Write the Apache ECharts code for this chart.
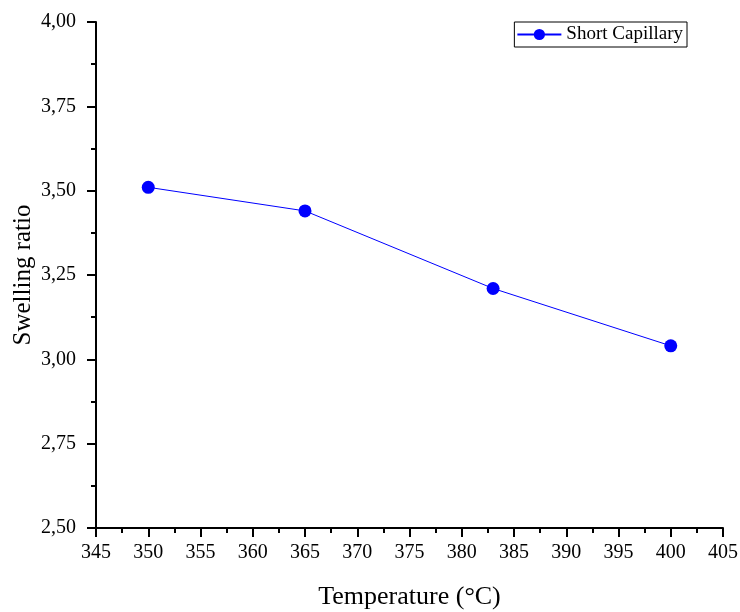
<!DOCTYPE html>
<html><head><meta charset="utf-8">
<script src="https://cdn.jsdelivr.net/npm/echarts@6/dist/echarts.min.js"></script>
<style>html,body{margin:0;padding:0;background:#fff}#c{width:740px;height:612px}</style>
</head><body><div id="c"></div>
<script>
const temperatures = [350, 365, 383, 400];
const swellingRatio = [3.51, 3.44, 3.21, 3.04];
const seriesName = 'Short Capillary';
const xTitle = 'Temperature (°C)';
const yTitle = 'Swelling ratio';

const font = 'Liberation Serif, Times New Roman, serif';
const chart = echarts.init(document.getElementById('c'));
chart.setOption({
  animation: false,
  backgroundColor: '#fff',
  grid: {left: 96, right: 17, top: 22, bottom: 84, containLabel: false, outerBoundsMode: 'none'},
  legend: {
    right: 53, top: 22,
    padding: [3, 4, 3, 2],
    borderColor: '#000', borderWidth: 1,
    itemWidth: 44, itemHeight: 14, itemGap: 4,
    textStyle: {fontFamily: font, fontSize: 19, color: '#000'},
    data: [seriesName]
  },
  xAxis: {
    type: 'value', min: 345, max: 405, interval: 5,
    name: xTitle, nameLocation: 'middle', nameGap: 56, nameMoveOverlap: false,
    nameTextStyle: {fontFamily: font, fontSize: 26, color: '#000'},
    axisLine: {show: true, onZero: false, lineStyle: {color: '#000', width: 2}},
    axisTick: {show: true, inside: false, length: 9, lineStyle: {color: '#000', width: 2}},
    minorTick: {show: true, splitNumber: 2, length: 5, lineStyle: {color: '#000', width: 2}},
    splitLine: {show: false},
    axisLabel: {fontFamily: font, fontSize: 20, color: '#000', margin: 15}
  },
  yAxis: {
    type: 'value', min: 2.5, max: 4.0, interval: 0.25,
    name: yTitle, nameLocation: 'middle', nameGap: 60, nameMoveOverlap: false,
    nameTextStyle: {fontFamily: font, fontSize: 25, color: '#000'},
    axisLine: {show: true, onZero: false, lineStyle: {color: '#000', width: 2}},
    axisTick: {show: true, inside: false, length: 9, lineStyle: {color: '#000', width: 2}},
    minorTick: {show: true, splitNumber: 2, length: 5, lineStyle: {color: '#000', width: 2}},
    splitLine: {show: false},
    axisLabel: {fontFamily: font, fontSize: 20, color: '#000', margin: 20,
      formatter: v => v.toFixed(2).replace('.', ',')}
  },
  series: [{
    name: seriesName, type: 'line',
    data: temperatures.map((t, i) => [t, swellingRatio[i]]),
    symbol: 'circle', symbolSize: 13,
    itemStyle: {color: '#0000ff'},
    lineStyle: {color: '#0000ff', width: 1}
  }]
});
</script></body></html>
